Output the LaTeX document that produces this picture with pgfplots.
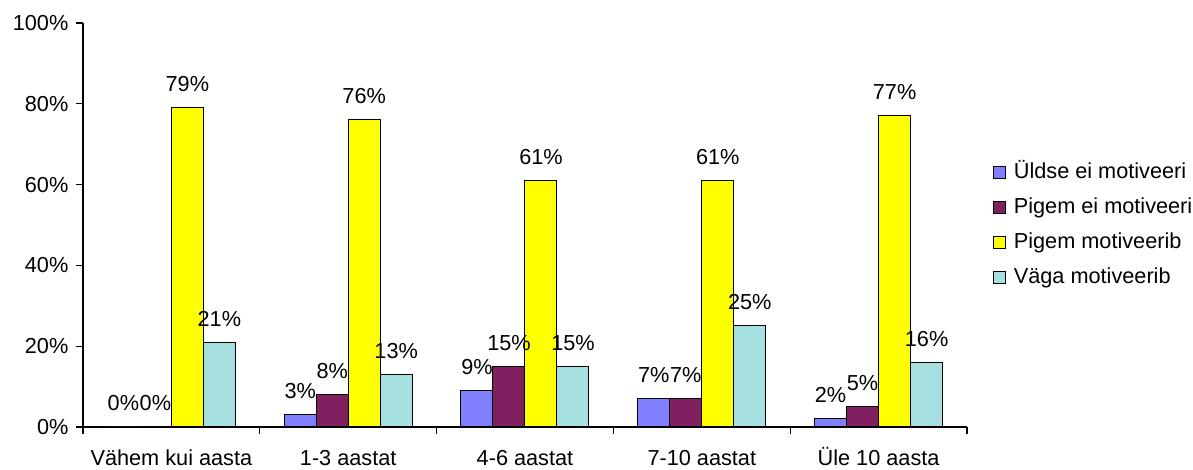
\documentclass[border=0pt]{standalone}
\usepackage{fontspec}
\setmainfont{Liberation Sans}
\usepackage{pgfplots}
\pgfplotsset{compat=1.18}

\definecolor{cBlue}{HTML}{8080FF}
\definecolor{cPurple}{HTML}{802060}
\definecolor{cYellow}{HTML}{FFFF00}
\definecolor{cCyan}{HTML}{A6E0E0}

\begin{document}
\fontsize{10.85}{13}\selectfont
\begin{tikzpicture}
  \useasboundingbox (-41.5pt,-21.5pt) rectangle (555pt,213.5pt);
  \begin{axis}[
    at={(0,0)}, anchor=south west,
    scale only axis,
    width=442pt, height=202pt,
    ybar=0pt, bar width=16pt,
    xmin=-0.5, xmax=4.5,
    ymin=0, ymax=100,
    axis x line*=bottom,
    axis y line*=left,
    axis line style={line width=0.6pt},
    xtick={0,1,2,3,4},
    xticklabels={Vähem kui aasta, 1-3 aastat, 4-6 aastat, 7-10 aastat, Üle 10 aasta},
    major x tick style={draw=none},
    minor xtick={-0.5,0.5,1.5,2.5,3.5,4.5},
    minor x tick style={line width=0.6pt, black},
    minor tick length=3.5pt,
    xticklabel style={yshift=-4pt, text height=8pt},
    ytick={0,20,40,60,80,100},
    yticklabel={\pgfmathprintnumber{\tick}\%},
    ytick style={line width=0.6pt, black},
    major tick length=3.5pt,
    tick align=outside,
    /pgf/number format/assume math mode=true,
    tick label style={font=\fontsize{10.85}{13}\selectfont},
    nodes near coords={\pgfmathprintnumber{\pgfplotspointmeta}\%},
    every node near coord/.append style={font=\fontsize{10.85}{13}\selectfont, anchor=base, yshift=8pt, inner sep=0pt},
    legend style={draw=none, fill=none, at={(1.022,0.5)}, anchor=west,
      legend cell align=left, row sep=7.5pt,
      font=\fontsize{10.85}{13}\selectfont,
      nodes={inner sep=0pt, text height=8pt, text depth=2pt},
      /tikz/every odd column/.append style={column sep=4pt}},
    legend image code/.code={\draw[#1, draw=black, line width=0.5pt] (0pt,-3pt) rectangle (6pt,3pt);},
    every axis plot/.append style={draw=black, line width=0.5pt},
  ]
  \addplot[fill=cBlue] coordinates {(0,0) (1,3) (2,9) (3,7) (4,2)};
  \addplot[fill=cPurple] coordinates {(0,0) (1,8) (2,15) (3,7) (4,5)};
  \addplot[fill=cYellow] coordinates {(0,79) (1,76) (2,61) (3,61) (4,77)};
  \addplot[fill=cCyan] coordinates {(0,21) (1,13) (2,15) (3,25) (4,16)};
  \legend{Üldse ei motiveeri, Pigem ei motiveeri, Pigem motiveerib, Väga motiveerib}
  \end{axis}
\end{tikzpicture}
\end{document}
